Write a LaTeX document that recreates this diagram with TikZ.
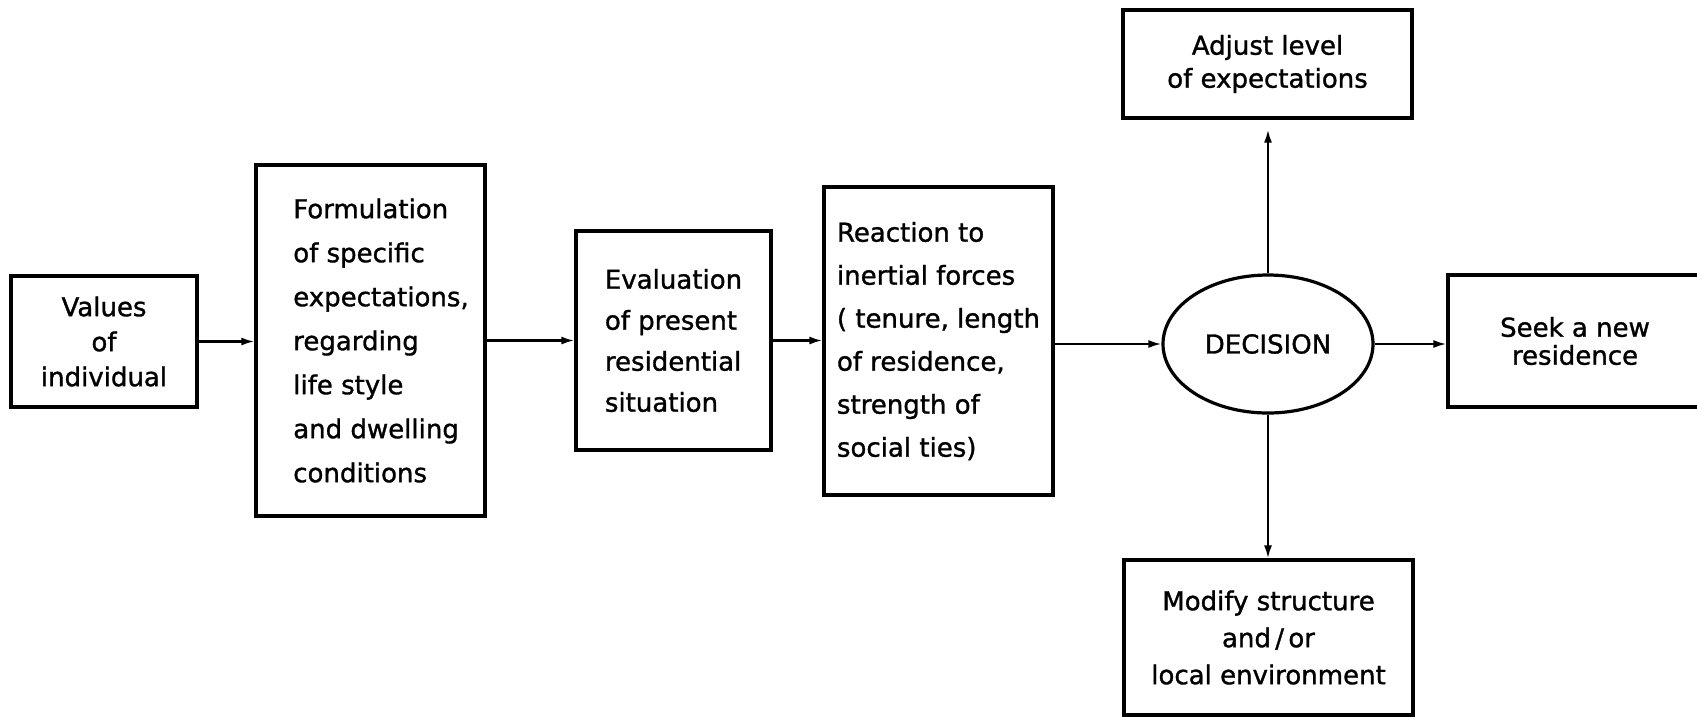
\documentclass[tikz,border=0pt]{standalone}
\usepackage{fontspec}
\setmainfont{DejaVu Sans}[FakeBold=1.2]
\usetikzlibrary{shapes.geometric,arrows.meta}
\newcommand{\indnt}{\hspace*{21pt}}
\begin{document}
\begin{tikzpicture}[x=1pt,y=1pt,
  box/.style={draw,line width=3.2pt,rectangle,inner sep=0pt},
  fs/.style={font=\fontsize{26}{#1}\selectfont},
  conn/.style={line width=2.2pt,-{Latex[length=13pt,width=8pt]}}]
\useasboundingbox (0,0) rectangle (1697,-716);

\node[box,fs=35,align=center,minimum width=186,minimum height=131] (val) at (104,-341.5)
  {Values\\of\\individual};
\node[box,fs=44,align=left,minimum width=229,minimum height=351] (form) at (370.5,-340.5)
  {\indnt Formulation\\\indnt of specific\\\indnt expectations,\\\indnt regarding\\\indnt life style\\\indnt and dwelling\\\indnt conditions};
\node[box,fs=41,align=left,minimum width=195,minimum height=219] (ev) at (673.5,-340.5)
  {Evaluation\\of present\\residential\\situation};
\node[box,fs=43,align=left,minimum width=229,minimum height=308] (re) at (938.5,-341)
  {Reaction to\\inertial forces\\( tenure, length\\of residence,\\strength of\\social ties)};
\node[draw,ellipse,line width=3.2pt,inner sep=0pt,fs=30,minimum width=210,minimum height=138] (dec) at (1268,-344)
  {DECISION};
\node[box,fs=33,align=center,minimum width=289,minimum height=108] (adj) at (1267.5,-64)
  {Adjust level\\of expectations};
\node[box,fs=28,align=center,minimum width=254,minimum height=132] (seek) at (1575,-341)
  {Seek a new\\residence};
\node[box,fs=37,align=center,minimum width=289,minimum height=155] (mod) at (1268.5,-637.5)
  {Modify structure\\and\,/\,or\\local environment};

\draw[conn] (val.east) -- (val.east -| form.west);
\draw[conn] (form.east |- ev.west) -- (ev.west);
\draw[conn] (ev.east) -- (ev.east -| re.west);
\draw[conn] (re.east |- dec.west) -- (dec.west);
\draw[conn] (dec.east) -- (dec.east -| seek.west);
\draw[conn,shorten >=10pt] (dec.north) -- (dec.north |- adj.south);
\draw[conn] (dec.south) -- (dec.south |- mod.north);
\end{tikzpicture}
\end{document}
